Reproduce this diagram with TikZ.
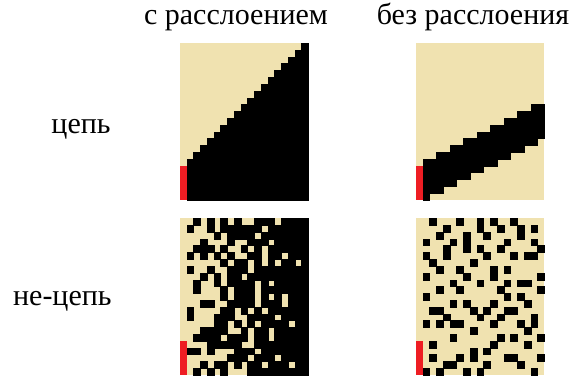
\documentclass[tikz,border=0pt]{standalone}
\usepackage{fontspec}
\setmainfont{Liberation Serif}
\usepackage{tikz}
\usetikzlibrary{positioning}
\definecolor{cSand}{HTML}{F0E2B0}
\definecolor{cSeed}{HTML}{EE1D23}
\definecolor{cInk}{HTML}{000000}
\tikzset{
  lbl/.style   ={font=\fontsize{15}{18}\selectfont,inner sep=0pt},
  hdr/.style   ={lbl,anchor=base},
  rowlbl/.style={lbl,anchor=east},
  sandbg/.style={fill=cSand},
  inkcell/.style={fill=cInk,draw=cInk,line width=0.25pt},
  seedcell/.style={fill=cSeed},
  pxgrid/.style={x=3.375pt,y=-3.405pt},
}
% black runs row/from/to, stratified noise
\newcommand{\noiseFib}{0/2/2,0/4/4,0/6/6,0/8/8,0/11/13,0/15/18,
 1/1/1,1/4/4,1/6/11,1/13/18,
 2/5/5,2/7/10,2/12/18,
 3/3/3,3/7/7,3/10/12,3/14/18,
 4/2/4,4/6/6,4/9/9,4/11/11,4/13/18,
 5/1/1,5/3/3,5/5/5,5/7/7,5/10/11,5/13/14,5/16/18,
 6/6/6,6/8/9,6/11/11,6/13/13,6/15/16,6/18/18,
 7/1/1,7/4/4,7/7/9,7/11/18,
 8/3/3,8/5/5,8/7/8,8/10/18,
 9/2/2,9/5/5,9/7/10,9/12/12,9/14/18,
 10/2/2,10/6/6,10/8/10,10/12/18,
 11/6/6,11/8/10,11/12/12,11/14/14,11/16/18,
 12/3/4,12/7/10,12/12/14,12/16/18,
 13/1/1,13/6/7,13/9/9,13/11/11,13/13/18,
 14/1/1,14/5/7,14/10/13,14/15/18,
 15/5/6,15/8/8,15/10/10,15/12/15,15/17/18,
 16/3/6,16/9/9,16/11/12,16/14/18,
 17/2/5,17/7/9,17/11/12,17/14/18,
 18/4/8,18/11/18,
 19/1/2,19/4/4,19/8/10,19/12/18,
 20/7/9,20/11/13,20/15/18,
 21/3/3,21/5/6,21/8/8,21/10/11,21/13/15,21/17/18,
 22/2/2,22/4/4,22/6/6,22/10/18}
% black cells row/col, flat noise
\newcommand{\noiseFlat}{0/2,0/6,0/9,0/11,0/14,
 1/4,1/9,1/12,1/15,1/17,
 2/3,2/7,2/10,2/15,
 3/1,3/5,3/7,3/13,3/17,
 4/4,4/7,4/9,4/12,4/18,
 5/1,5/4,5/10,5/14,5/16,5/17,
 6/2,6/8,
 7/3,7/6,7/11,7/13,
 8/1,8/7,8/11,8/18,
 9/5,9/9,9/13,9/15,9/16,
 10/3,10/6,10/12,10/18,
 11/1,11/13,11/15,
 12/5,12/7,12/11,12/16,
 13/2,13/3,13/8,13/10,13/13,13/14,
 14/4,14/9,14/12,14/17,
 15/1,15/3,15/5,15/6,15/11,15/15,15/17,
 16/8,16/16,
 17/5,17/12,17/14,17/18,
 18/2,18/11,18/16,
 19/8,19/10,
 20/2,20/6,20/8,20/13,20/14,20/18,
 21/4,21/5,21/10,21/15,
 22/1,22/3,22/7,22/9,22/17}

\begin{document}
\begin{tikzpicture}[x=0.5pt,y=0.5pt]
\useasboundingbox (0,0) rectangle (574,381);
% panel corners (north west)
\coordinate (chainFib)  at (180,337.7);
\coordinate (chainFlat) at (416,337.7);
\coordinate (restFib)   at (180,162.5);
\coordinate (restFlat)  at (416,162.5);
% headings
\node[hdr] (hFib)  at (236,356) {с расслоением};
\node[hdr] (hFlat) at (473,356) {без расслоения};
\node[rowlbl] (lChain) at (111,252) {цепь};
\node[rowlbl] (lRest)  at (112,80)  {не-цепь};
% chain, stratified
\begin{scope}[shift={(chainFib)},pxgrid]
  \fill[sandbg] (0,0) rectangle (19,23);
  \foreach \col in {1,...,18}
    \fill[inkcell] (\col,18-\col) rectangle (\col+1,23);
  \fill[seedcell] (0,18) rectangle (1,23);
\end{scope}
% chain, flat
\begin{scope}[shift={(chainFlat)},pxgrid]
  \fill[sandbg] (0,0) rectangle (19,23);
  \foreach \col in {1,...,18}{
    \pgfmathtruncatemacro\hi{17-floor((\col-1)/2)}
    \pgfmathtruncatemacro\lo{23-floor(\col/2)}
    \fill[inkcell] (\col,\hi) rectangle (\col+1,\lo);
  }
  \fill[seedcell] (0,18) rectangle (1,23);
\end{scope}
% non-chain, stratified
\begin{scope}[shift={(restFib)},pxgrid]
  \fill[sandbg] (0,0) rectangle (19,23);
  \foreach \row/\a/\b in \noiseFib
    \fill[inkcell] (\a,\row) rectangle (\b+1,\row+1);
  \fill[seedcell] (0,18) rectangle (1,23);
\end{scope}
% non-chain, flat
\begin{scope}[shift={(restFlat)},pxgrid]
  \fill[sandbg] (0,0) rectangle (19,23);
  \foreach \row/\col in \noiseFlat
    \fill[inkcell] (\col,\row) rectangle (\col+1,\row+1);
  \fill[seedcell] (0,18) rectangle (1,23);
\end{scope}
\end{tikzpicture}
\end{document}
